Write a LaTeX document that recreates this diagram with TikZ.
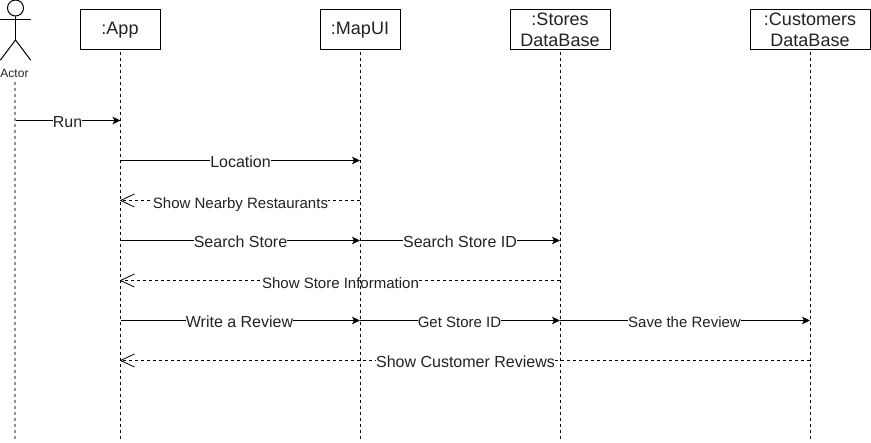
\documentclass[tikz,border=0pt]{standalone}
\usepackage{fontspec}
\setmainfont{Liberation Sans}
\usetikzlibrary{arrows.meta}
\definecolor{txt}{HTML}{222222}
\tikzset{x=1pt,y=-1pt,
  objbox/.style={draw=black,line width=1pt,fill=white,minimum height=40pt,align=center,inner sep=0pt,font=\fontsize{18}{21}\selectfont,text=txt},
  life/.style={line width=0.9pt,dash pattern=on 3pt off 3pt},
  lifegray/.style={line width=1.3pt,dash pattern=on 3pt off 3pt,draw=gray!85},
  actorline/.style={line width=1pt,line cap=round},
  msg/.style={line width=1pt,-{Stealth[length=8pt,width=7.5pt,inset=2pt]}},
  openhead/.style={line width=0.8pt,line join=round},
  lab/.style={fill=white,inner sep=0.3pt,text height=11.5pt,text depth=3.5pt,text=txt,yshift=-1.3pt,font=\fontsize{16}{18}\selectfont},
  labs/.style={lab,font=\fontsize{15}{18}\selectfont}
}
\begin{document}
\begin{tikzpicture}
\useasboundingbox (0,0) rectangle (871,443);
% objects
\node[objbox,minimum width=80pt] (app) at (120,30) {:App};
\node[objbox,minimum width=80pt] (map) at (360,30) {:MapUI};
\node[objbox,minimum width=100pt] (sto) at (560,30) {\raisebox{1pt}{\parbox{90pt}{\centering :Stores\\DataBase}}};
\node[objbox,minimum width=120pt] (cus) at (810,30) {\raisebox{1pt}{\parbox{110pt}{\centering :Customers\\DataBase}}};
% actor
\node[circle,draw=black,line width=1pt,minimum size=16pt,inner sep=0pt] (head) at (15.5,8) {};
\coordinate (hip) at (15.5,40);
\coordinate (armL) at (0.5,20);
\coordinate (armR) at (30.5,20);
\coordinate (legL) at (0.5,60);
\coordinate (legR) at (30.5,60);
\draw[actorline] (head.south) -- (hip);
\draw[actorline] (armL) -- (armR);
\draw[actorline] (legL) -- (hip) -- (legR);
\node[inner sep=0pt,text=txt,font=\fontsize{12}{13}\selectfont] (actor) at (14.5,73.5) {Actor};
% lifeline ends
\coordinate (actT) at (15,82);
\coordinate (actB) at (15,441);
\coordinate (appB) at (120,441);
\coordinate (mapB) at (360,441);
\coordinate (stoB) at (560,441);
\coordinate (cusB) at (810,441);
% message anchors
\foreach \y/\v in {120/120.5,160/160.5,200/200.5,240/240.5,280/280.5,320/320.5,360/360.5}{
  \coordinate (A\y) at (15,\v);
  \coordinate (P\y) at (120.5,\v);
  \coordinate (M\y) at (360,\v);
  \coordinate (S\y) at (560,\v);
  \coordinate (C\y) at (810,\v);
}
% messages
\draw[msg] (A120) -- (P120);
\node[lab] (l1) at (67.5,122) {Run};
\draw[msg] (P160) -- (M160);
\node[lab] (l2) at (240.5,162) {Location};
\draw[life] (M200) -- (P200);
\draw[openhead] ([shift={(14,-6.5)}]P200) -- (P200) -- ([shift={(14,6.5)}]P200);
\node[labs] (l3) at (240.5,203) {Show Nearby Restaurants};
\draw[msg] (P240) -- (M240);
\node[lab] (l4) at (240.5,242) {Search Store};
\draw[msg] (M240) -- (S240);
\node[lab] (l5) at (460,242) {Search Store ID};
\draw[life] (S280) -- (P280);
\draw[openhead] ([shift={(14,-6.5)}]P280) -- (P280) -- ([shift={(14,6.5)}]P280);
\node[labs] (l6) at (340.5,283) {Show Store Information};
\draw[msg] (P320) -- (M320);
\node[lab] (l7) at (239.5,322) {Write a Review};
\draw[msg] (M320) -- (S320);
\node[labs] (l8) at (459.5,322) {Get Store ID};
\draw[msg] (S320) -- (C320);
\node[labs] (l9) at (684.5,322) {Save the Review};
\draw[life] (C360) -- (P360);
\draw[openhead] ([shift={(14,-6.5)}]P360) -- (P360) -- ([shift={(14,6.5)}]P360);
\node[lab] (l10) at (465.5,362) {Show Customer Reviews};
% lifelines on top
\draw[lifegray] (actT) -- (actB);
\draw[life] ([yshift=-2pt]app.south) -- (appB);
\draw[life] ([yshift=-2pt]map.south) -- (mapB);
\draw[life] ([yshift=-2pt]sto.south) -- (stoB);
\draw[life] ([yshift=-2pt]cus.south) -- (cusB);
\end{tikzpicture}
\end{document}
